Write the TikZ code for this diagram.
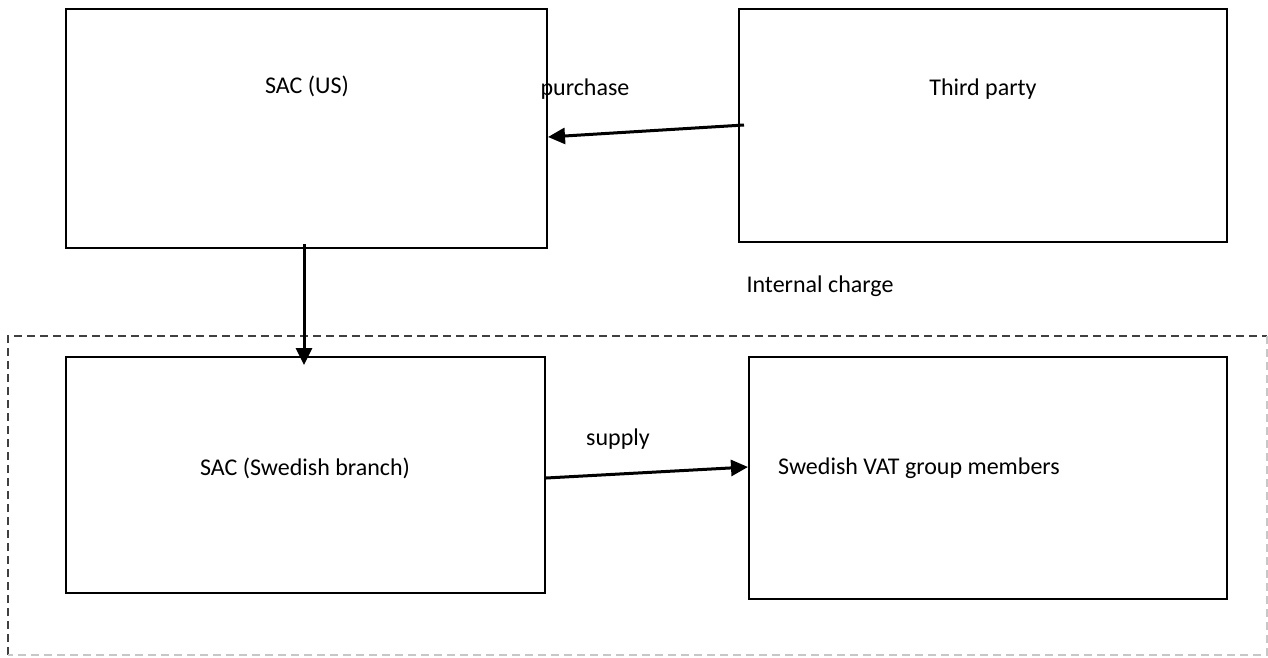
\documentclass[tikz,border=0pt]{standalone}
\usepackage{fontspec}
\setmainfont{Carlito}
\usetikzlibrary{arrows.meta,calc}
\begin{document}
\begin{tikzpicture}[x=1pt,y=-1pt,
  box/.style={draw=black,line width=2pt,minimum width=#1,inner sep=0pt},
  txt/.style={font=\fontsize{24}{28}\selectfont,inner sep=0pt},
  arr/.style={line width=3pt,-{Triangle[length=17pt,width=16pt]}},
  darkdash/.style={draw=black!75,line width=1.5pt,dash pattern=on 8pt off 5pt},
  lightdash/.style={draw=black!22,line width=1.5pt,dash pattern=on 8pt off 5pt}]
\useasboundingbox (0,0) rectangle (1268,657);
% dashed frame around the Swedish VAT group
\coordinate (fTL) at (8,336);
\coordinate (fTR) at (1267,336);
\coordinate (fBL) at (8,655);
\coordinate (fBR) at (1267,655);
\draw[darkdash] (fBL) -- (fTL) -- (fTR);
\draw[lightdash] (fTR) -- (fBR) -- (fBL);
% boxes
\node[box=481pt,minimum height=239pt] (us) at (306.5,128.5) {};
\node[box=488pt,minimum height=233pt] (tp) at (983,125.5) {};
\node[box=479pt,minimum height=236pt] (sw) at (305.5,475) {};
\node[box=478pt,minimum height=242pt] (vat) at (988,478) {};
% box texts
\node[txt] (usT) at (307,86) {SAC (US)};
\node[txt] (tpT) at (983,89) {Third party};
\node[txt] (swT) at (305,468) {SAC (Swedish branch)};
\node[txt] (vatT) at (919,468) {Swedish VAT group members};
% connector labels
\node[txt] (purT) at (585,89) {purchase};
\node[txt] (supT) at (618,439) {supply};
\node[txt] (intT) at (820,286) {Internal charge};
% connectors
\draw[arr] ([xshift=6pt,yshift=0.5pt]tp.west) -- ([yshift=-8.5pt]us.east);
\draw[arr] ([xshift=-2.5pt,yshift=5pt]us.south) -- ([xshift=-1.5pt,yshift=-9pt]sw.north);
\draw[arr] ([yshift=-3pt]sw.east) -- ([yshift=11pt]vat.west);
\end{tikzpicture}
\end{document}
